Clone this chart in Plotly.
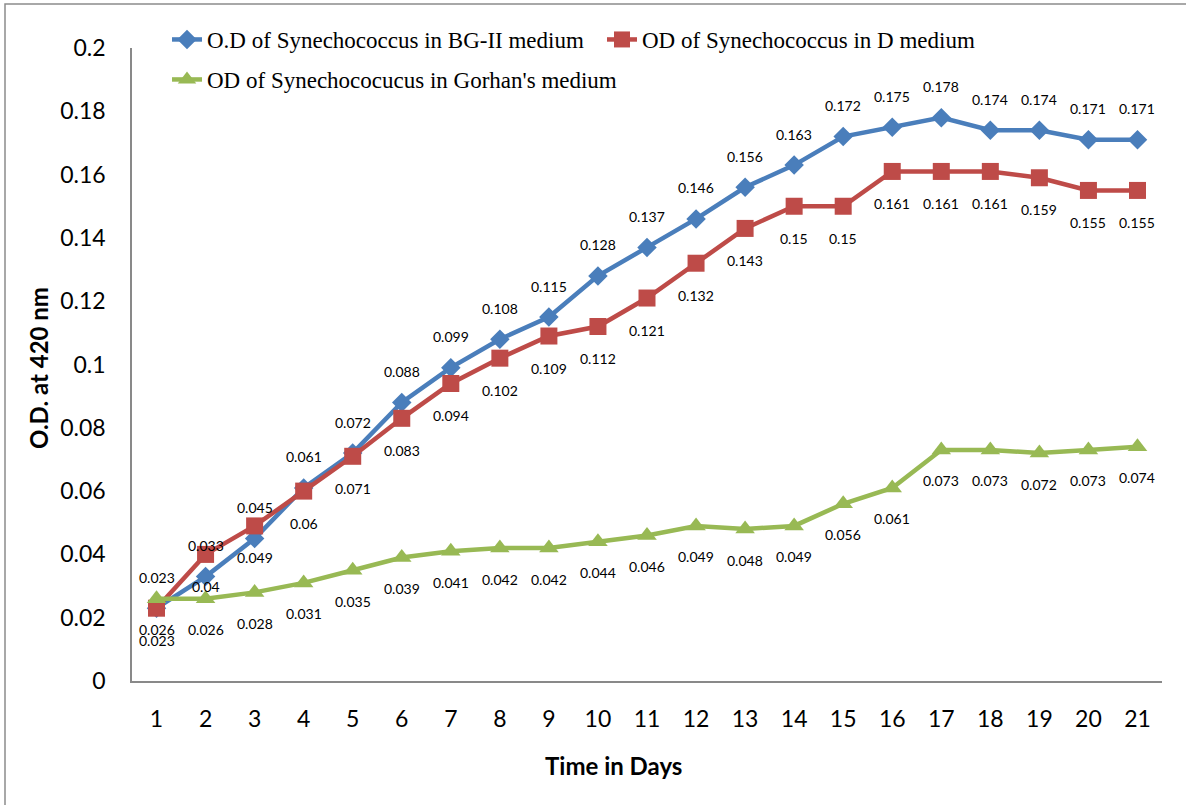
import plotly.graph_objects as go

# Growth curves: optical density at 420 nm over 21 days
days = list(range(1, 22))
bg11_od = [0.023, 0.033, 0.045, 0.061, 0.072, 0.088, 0.099, 0.108, 0.115, 0.128, 0.137,
           0.146, 0.156, 0.163, 0.172, 0.175, 0.178, 0.174, 0.174, 0.171, 0.171]
d_od = [0.023, 0.04, 0.049, 0.06, 0.071, 0.083, 0.094, 0.102, 0.109, 0.112, 0.121,
        0.132, 0.143, 0.15, 0.15, 0.161, 0.161, 0.161, 0.159, 0.155, 0.155]
gorhan_od = [0.026, 0.026, 0.028, 0.031, 0.035, 0.039, 0.041, 0.042, 0.042, 0.044, 0.046,
             0.049, 0.048, 0.049, 0.056, 0.061, 0.073, 0.073, 0.072, 0.073, 0.074]

y_ticks = [0, 0.02, 0.04, 0.06, 0.08, 0.1, 0.12, 0.14, 0.16, 0.18, 0.2]
y_tick_text = ["0", "0.02", "0.04", "0.06", "0.08", "0.1", "0.12", "0.14", "0.16", "0.18", "0.2"]

series = [
    dict(name="O.D of Synechococcus in BG-II medium", y=bg11_od, color="#4A7EBB",
         symbol="diamond", size=15, legend="legend", label_shift=31),
    dict(name="OD of Synechococcus in D medium", y=d_od, color="#BE4B48",
         symbol="square", size=17, legend="legend", label_shift=-32),
    dict(name="OD of Synechococucus in Gorhan's medium", y=gorhan_od, color="#98B954",
         symbol="triangle-up", size=17, legend="legend2", label_shift=-31),
]

fig = go.Figure()
annotations = []
for s in series:
    fig.add_trace(go.Scatter(
        x=days, y=s["y"], mode="lines+markers", name=s["name"],
        line=dict(color=s["color"], width=4.5),
        marker=dict(symbol=s["symbol"], size=s["size"], color=s["color"]),
        legend=s["legend"],
    ))
    for d, v in zip(days, s["y"]):
        annotations.append(dict(
            x=d, y=v, xref="x", yref="y", text=str(v), showarrow=False,
            yshift=s["label_shift"], font=dict(family="Lato", size=14, color="#000000"),
        ))

# axis titles
annotations.append(dict(
    text="<b>Time in Days</b>", xref="paper", yref="paper",
    x=(613 - 132) / 1030, y=(681 - 765) / 633, showarrow=False,
    xanchor="center", yanchor="middle",
    font=dict(family="Lato", size=24, color="#000000"),
))
annotations.append(dict(
    text="<b>O.D. at 420 nm</b>", xref="paper", yref="paper",
    x=(38 - 132) / 1030, y=(681 - 368) / 633, showarrow=False, textangle=-90,
    xanchor="center", yanchor="middle",
    font=dict(family="Lato", size=24, color="#000000"),
))

legend_font = dict(family="Liberation Serif", size=23, color="#000000")
fig.update_layout(
    width=1186, height=805,
    margin=dict(l=132, r=24, t=48, b=124, autoexpand=False),
    paper_bgcolor="white", plot_bgcolor="white",
    showlegend=True,
    legend=dict(
        orientation="h", xref="container", yref="container",
        x=167 / 1186, y=1 - 18 / 805, xanchor="left", yanchor="top",
        font=legend_font, itemwidth=30, entrywidth=390, entrywidthmode="pixels",
        bgcolor="rgba(0,0,0,0)",
    ),
    legend2=dict(
        orientation="h", xref="container", yref="container",
        x=167 / 1186, y=1 - 58 / 805, xanchor="left", yanchor="top",
        font=legend_font, itemwidth=30, bgcolor="rgba(0,0,0,0)",
    ),
    annotations=annotations,
    shapes=[dict(
        type="path", xref="paper", yref="paper",
        path="M -0.1233,-0.2 L -0.1233,1.0695 L 1.03,1.0695",
        line=dict(color="#8C8C8C", width=1.5),
    )],
)

fig.update_xaxes(
    range=[0.5, 21.5], tickvals=days, ticktext=[str(d) for d in days],
    showgrid=False, zeroline=False, showline=True, linecolor="#898989", linewidth=1.5,
    ticks="", ticklabelstandoff=17,
    tickfont=dict(family="Lato", size=23, color="#000000"),
)
fig.update_yaxes(
    range=[0, 0.2], tickvals=y_ticks, ticktext=y_tick_text,
    showgrid=False, zeroline=False, showline=True, linecolor="#898989", linewidth=1.5,
    ticks="", ticklabelstandoff=20,
    tickfont=dict(family="Lato", size=23, color="#000000"),
)

fig.write_html("out.html")
